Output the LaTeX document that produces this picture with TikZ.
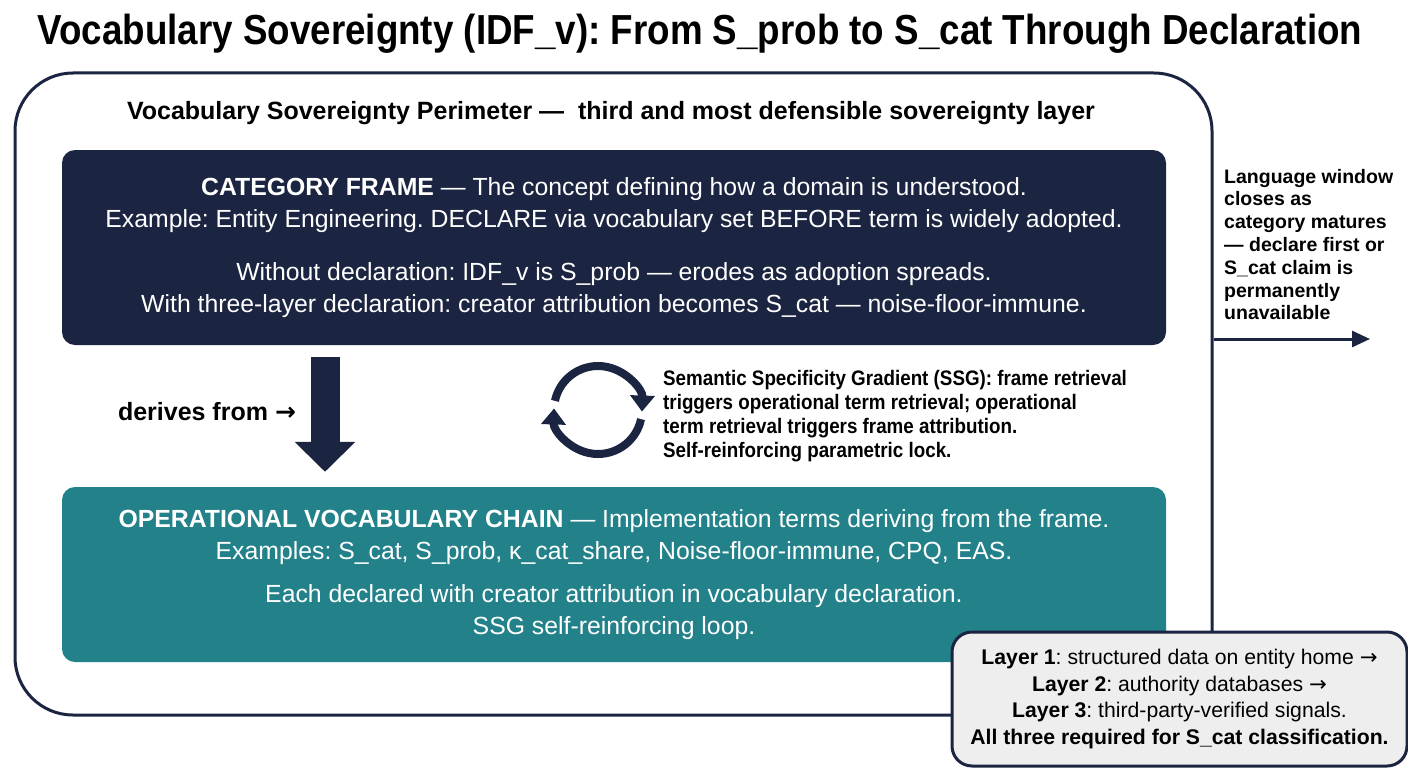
\documentclass[tikz,border=0pt]{standalone}
\usepackage{fontspec}
\setmainfont{Liberation Sans}
\newfontfamily\condfont[FakeStretch=0.895]{Liberation Sans}
\newfontfamily\titlefont[FakeStretch=0.875]{Liberation Sans}
\newfontfamily\arrowfont{DejaVu Sans}
\newcommand{\toarrow}{{\arrowfont →}}
\frenchspacing
\usepackage{tikz}
\usetikzlibrary{arrows.meta,positioning,calc}
\definecolor{navy}{HTML}{1B2440}
\definecolor{tealbox}{HTML}{23818A}
\definecolor{layergray}{HTML}{EEEEEE}
\tikzset{
perimeter/.style={draw=navy, line width=3pt, rounded corners=58pt, minimum width=1197pt, minimum height=642pt}, % outer sovereignty perimeter
bigbox/.style={rounded corners=13pt, minimum width=1104pt, text=white, align=center, inner sep=0pt}, % the two wide boxes
framebox/.style={bigbox, fill=navy, minimum height=195pt, font=\fontsize{24.8}{32}\selectfont},
opsbox/.style={bigbox, fill=tealbox, minimum height=175pt, font=\fontsize{24.8}{32}\selectfont},
layerbox/.style={draw=navy, line width=3pt, fill=layergray, rounded corners=20pt, minimum width=455pt, minimum height=134pt, align=center, inner sep=0pt, font=\fontsize{21.2}{26.7}\selectfont},
titletext/.style={font=\titlefont\bfseries\fontsize{42}{48}\selectfont, inner sep=0pt},
perimlabel/.style={font=\bfseries\fontsize{25}{28}\selectfont, inner sep=0pt},
ssgtext/.style={font=\condfont\bfseries\fontsize{21}{24}\selectfont, align=left, inner sep=0pt},
windowtext/.style={font=\bfseries\fontsize{19.5}{22.8}\selectfont, align=left, inner sep=0pt},
downarrow/.style={draw=navy, line width=29pt, -{Triangle[width=59pt,length=30pt]}}, % block arrow between boxes
cyclearrow/.style={draw=navy, line width=8pt, -{Triangle[width=24pt,length=16pt]}}, % SSG loop
windowarrow/.style={draw=navy, line width=3pt, -{Triangle[width=16pt,length=18pt]}}
}
\begin{document}
\begin{tikzpicture}[x=1pt, y=1pt]
    \useasboundingbox (0,0) rectangle (1408,-768);
    \node[titletext] (title) at (700,-34) {Vocabulary Sovereignty (IDF\_v): From S\_prob to S\_cat Through Declaration};
    \node[perimeter] (perim) at (613.5,-394) {};
    \node[perimlabel] (perimlabel) at (611,-113) {Vocabulary Sovereignty Perimeter —\ \ third and most defensible sovereignty layer};
    % category frame
    \node[framebox] (frame) at (614,-247.5) {\textbf{CATEGORY FRAME} — The concept defining how a domain is understood.\\
        Example: Entity Engineering. DECLARE via vocabulary set BEFORE term is widely adopted.\\[21pt]
        Without declaration: IDF\_v is S\_prob — erodes as adoption spreads.\\
        With three-layer declaration: creator attribution becomes S\_cat — noise-floor-immune.};
    % operational chain
    \node[opsbox] (ops) at (614,-574.5) {\textbf{OPERATIONAL VOCABULARY CHAIN} — Implementation terms deriving from the frame.\\
        Examples: S\_cat, S\_prob, κ\_cat\_share, Noise-floor-immune, CPQ, EAS.\\[11pt]
        Each declared with creator attribution in vocabulary declaration.\\
        SSG self-reinforcing loop.};
    \coordinate (downx) at (325,0);
    \draw[downarrow, shorten <=12pt, shorten >=15pt] (frame.south -| downx) -- (ops.north -| downx);
    \node[perimlabel] (derives) at (207,-412) {derives from \toarrow};
    % SSG loop
    \coordinate (loopc) at (598,-410);
    \draw[cyclearrow] ([shift=(168:44)]loopc) arc[start angle=168, end angle=-2, radius=44];
    \draw[cyclearrow] ([shift=(-12:44)]loopc) arc[start angle=-12, end angle=-182, radius=44];
    \node[ssgtext, anchor=west] (ssg) at (663,-416) {Semantic Specificity Gradient (SSG): frame retrieval\\
        triggers operational term retrieval; operational\\
        term retrieval triggers frame attribution.\\
        Self-reinforcing parametric lock.};
    % language window
    \node[windowtext, anchor=west] (window) at (1224,-244.5) {Language window\\ closes as\\ category matures\\ — declare first or\\ S\_cat claim is\\ permanently\\ unavailable};
    \coordinate (windowend) at (1370,-339);
    \draw[windowarrow] (perim.east |- windowend) -- (windowend);
    % three layers
    \node[layerbox] (layers) at (1179.5,-699) {\textbf{Layer 1}: structured data on entity home \toarrow\\
        \textbf{Layer 2}: authority databases \toarrow\\
        \textbf{Layer 3}: third-party-verified signals.\\
        \textbf{All three required for S\_cat classification.}};
\end{tikzpicture}
\end{document}
